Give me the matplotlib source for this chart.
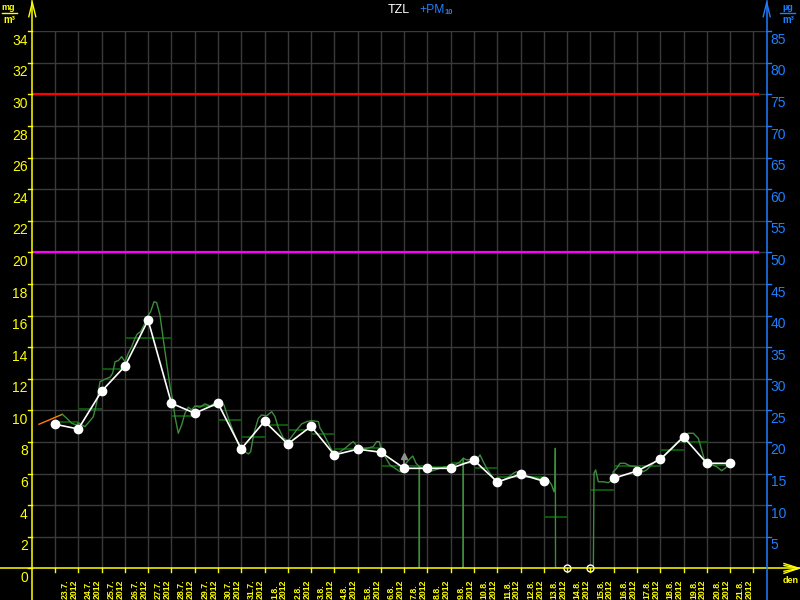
import matplotlib
matplotlib.use("Agg")
import matplotlib.pyplot as plt
from matplotlib.lines import Line2D
from matplotlib import transforms
import numpy as np

# ---------------- data ----------------
day_labels = ["23.7.", "24.7.", "25.7.", "26.7.", "27.7.", "28.7.", "29.7.", "30.7.", "31.7.",
              "1.8.", "2.8.", "3.8.", "4.8.", "5.8.", "6.8.", "7.8.", "8.8.", "9.8.", "10.8.",
              "11.8.", "12.8.", "13.8.", "14.8.", "15.8.", "16.8.", "17.8.", "18.8.", "19.8.",
              "20.8.", "21.8."]
year_label = "2012"

# white daily points (at day boundaries), mg/m3
daily_points = [9.12, 8.82, 11.21, 12.79, 15.71, 10.45, 9.82, 10.45, 7.56, 9.31,
                7.87, 8.99, 7.18, 7.54, 7.35, 6.33, 6.33, 6.33, 6.84, 5.47,
                5.95, 5.51, None, None, 5.70, 6.16, 6.90, 8.32, 6.65, 6.65]
hollow_idx = [22, 23]
hollow_vals = [0.0, 0.0]

# daily averages (dark green bars over each day)
daily_avg = [9.25, 10.07, 12.6, 14.57, 14.57, 9.63, 10.26, 9.37, 8.32, 9.06,
             8.74, 8.5, 7.54, 7.6, 6.5, 6.5, 6.4, 6.65, 6.33, 5.8,
             5.75, 3.27, 0.0, 4.96, 6.46, 6.46, 7.47, 8.0, 6.54]

# hourly series (hours from 23.7. 00:00), mg/m3
orange_hours = [-16.5, 7.6]
orange_vals = [9.12, 9.75]

hourly_hours = [7.6, 12.0, 17.2, 22.3, 24.1, 27.5, 30.9, 34.4, 39.5, 42.9, 46.4, 51.5, 56.7,
                59.4, 61.9, 65.3, 68.7, 72.2, 75.6, 79.0, 82.5, 84.9, 88.3, 91.8, 95.2, 98.6,
                102.1, 104.8, 108.2, 111.7, 115.1, 118.6, 121.3, 123.7, 127.1, 130.6, 134.0,
                137.4, 140.9, 144.3, 149.5, 154.6, 159.8, 164.9, 170.1, 174.2, 178.7, 183.8,
                189.0, 194.1, 199.3, 201.7, 205.1, 209.6, 213.1, 218.2, 223.4, 226.8, 230.2,
                235.4, 240.5, 244.0, 249.1, 254.3, 259.5, 264.6, 271.5, 273.2, 276.6, 280.1,
                281.8, 285.2, 288.7, 293.8, 299.0, 304.1, 307.5, 310.3, 314.4, 321.3, 328.1,
                331.6, 334.3, 336.8, 340.2, 345.3, 350.5, 355.7, 359.1, 361.8, 365.3, 368.8,
                372.2, 375.6, 375.6, 375.7, 381.4, 386.6, 391.7, 396.9, 402.0, 407.2, 412.4,
                417.5, 420.9, 420.9, 421.0, 424.4, 429.6, 434.7, 438.1, 441.5, 445.0, 448.4,
                452.6, 457.0, 462.2, 467.3, 472.5, 475.9, 481.1, 486.3, 489.7, 496.5, 504.5,
                508.5, 512.0, 514.4, 515.5, 515.8, 516.0, 555.0, 555.7, 557.4, 560.1, 565.3,
                570.4, 573.9, 575.6, 579.0, 582.5, 587.6, 592.8, 599.6, 606.5, 610.0, 615.1,
                620.3, 625.4, 630.6, 635.7, 640.9, 646.1, 649.5, 652.9, 658.0, 663.2, 666.7,
                670.1, 675.2, 682.2, 687.3, 690.7, 695.9]
hourly_vals = [9.75, 9.50, 9.18, 9.08, 9.22, 9.08, 8.97, 9.22, 9.60, 10.45, 11.82, 11.97, 12.10,
               12.35, 13.08, 13.15, 13.40, 13.08, 13.62, 14.03, 14.57, 14.84, 14.98, 15.41, 15.93,
               16.25, 16.88, 16.82, 16.04, 14.46, 12.98, 11.50, 10.66, 9.60, 8.55, 9.08, 9.82,
               10.20, 10.03, 10.28, 10.20, 10.41, 10.28, 10.45, 10.55, 10.34, 9.50, 8.65,
               7.87, 7.45, 7.24, 7.38, 8.55, 9.50, 9.71, 9.65, 9.92, 9.60, 8.90,
               8.25, 8.05, 8.34, 8.76, 9.14, 9.29, 9.35, 9.29, 8.87, 8.55, 8.13,
               7.92, 7.49, 7.28, 7.38, 7.60, 7.87, 8.02, 7.81, 7.54, 7.60, 7.70,
               8.02, 8.02, 7.38, 7.07, 6.54, 6.33, 6.12, 6.12, 6.65, 6.90, 7.11,
               6.65, 6.43, 0.0, 6.43, 6.23, 6.12, 6.23, 6.33, 6.43, 6.43, 6.54,
               6.75, 6.97, 0.0, 6.97, 6.86, 6.90, 6.86, 7.18, 6.75, 6.33, 6.02,
               5.64, 5.48, 5.59, 5.76, 6.02, 6.12, 5.91, 5.76, 5.80, 5.70, 5.59,
               5.59, 5.28, 4.85, 5.38, 7.60, 0.0, 0.0, 6.02, 6.23, 5.48, 5.48,
               5.42, 5.59, 6.12, 6.33, 6.65, 6.65, 6.48, 6.43, 6.12, 6.23, 6.54,
               6.86, 6.97, 7.28, 7.54, 7.92, 8.23, 8.44, 8.55, 8.55, 8.23, 7.49,
               6.75, 6.61, 6.43, 6.18, 6.33, 6.65]

limit_red = 30
limit_magenta = 20
left_ticks = list(range(0, 35, 2))
right_ticks = list(range(5, 90, 5))
right_factor = 2.5

# ---------------- style ----------------
YEL = "#ffff00"
BLUE = "#1e7fff"
GRID = "#3a3a3a"
GREEN = "#3c8c3c"
DKGREEN = "#0b5e0b"
FONT = "Liberation Sans"

W, H = 800, 600
fig = plt.figure(figsize=(8, 6), dpi=100, facecolor="black")
L, R, T, B = 32.3, 766.7, 31.3, 568.3
ax = fig.add_axes([L / W, 1 - B / H, (R - L) / W, (B - T) / H])
ax.set_facecolor("black")
ax.set_xlim(-0.975, 30.571)
ax.set_ylim(0, 34)
for s in ax.spines.values():
    s.set_visible(False)

ax.set_xticks(range(0, 31))
ax.set_yticks(range(2, 35, 2))
ax.tick_params(axis="both", labelbottom=False, labelleft=False, length=0)
ax.grid(True, color=GRID, lw=1.0, zorder=0)
ax.set_axisbelow(True)

# limits
xr_end = 30.24
ax.plot([-0.975, xr_end], [limit_red, limit_red], color="#ff0000", lw=1.6, zorder=2,
        solid_capstyle="butt")
ax.plot([-0.975, xr_end], [limit_magenta, limit_magenta], color="#ff00ff", lw=1.6, zorder=2,
        solid_capstyle="butt")

# daily averages
for d, v in enumerate(daily_avg):
    ax.plot([d, d + 1], [v, v], color=DKGREEN, lw=1.3, zorder=3, solid_capstyle="butt")

# hourly line
ax.plot(np.array(orange_hours) / 24.0, orange_vals, color="#ff8000", lw=1.0, zorder=4)
ax.plot(np.array(hourly_hours) / 24.0, hourly_vals, color=GREEN, lw=1.0, zorder=4)

# gray marker at 7.8.
ax.plot([15, 15], [6.4, 7.0], color="#909090", lw=1.2, zorder=5)
ax.plot([15], [7.1], marker="^", color="#909090", ms=4, zorder=5)

# white daily line
xs = np.arange(len(daily_points))
ys = np.array([np.nan if v is None else v for v in daily_points])
ax.plot(xs, ys, color="white", lw=1.2, marker="o", ms=6, mfc="white", mec="white", zorder=6)
ax.plot(hollow_idx, hollow_vals, ls="none", marker="o", ms=5, mfc="black", mec="white",
        mew=1.0, zorder=7, clip_on=False)

# ---------------- ticks & labels ----------------
def fig_line(xs_px, ys_px, color, lw=1.0):
    fig.add_artist(Line2D([x / W for x in xs_px], [1 - y / H for y in ys_px],
                          transform=fig.transFigure, color=color, lw=lw, zorder=10))

# axis lines
fig_line([L, L], [1, 600], YEL, 1.1)
fig_line([0, 800], [B, B], YEL, 1.1)
fig_line([R, R], [1, 600], BLUE, 1.1)
# arrows
fig_line([28.8, L, 35.8], [16.7, 2.5, 16.7], YEL, 1.0)
fig_line([763.2, R, 770.2], [16.7, 2.5, 16.7], BLUE, 1.0)
fig_line([784, 799, 784], [563.5, B, 573.3], YEL, 1.0)
fig_line([784, 799, 784], [565.5, B, 571.3], YEL, 1.0)

# tick marks
for k in range(0, 31):
    xp = 55 + 23.28 * k
    fig_line([xp, xp], [B, B + 4], YEL, 1.0)
for v in left_ticks:
    yp = B - v * (B - T) / 34.0
    fig_line([L - 4, L], [yp, yp], YEL, 1.0)
for v in right_ticks:
    yp = B - (v / right_factor) * (B - T) / 34.0
    fig_line([R, R + 4], [yp, yp], BLUE, 1.0)

# left tick labels
tl = transforms.offset_copy(transforms.blended_transform_factory(ax.transAxes, ax.transData),
                            fig=fig, x=-4.5, y=-2.5, units="dots")
for v in left_ticks:
    ax.text(0, v, str(v), transform=tl, color=YEL, fontsize=10, family=FONT,
            ha="right", va="top", clip_on=False)
# right tick labels
tr = transforms.offset_copy(transforms.blended_transform_factory(ax.transAxes, ax.transData),
                            fig=fig, x=4.0, y=-1.5, units="dots")
for v in right_ticks:
    ax.text(1, v / right_factor, str(v), transform=tr, color=BLUE, fontsize=10, family=FONT,
            ha="left", va="top", clip_on=False)

# x labels
tx = transforms.blended_transform_factory(ax.transData, fig.transFigure)
for d, lab in enumerate(day_labels):
    ax.text(d + 0.63, 1.0 / H, lab + "\n" + year_label, transform=tx, rotation=90,
            color=YEL, fontsize=6.3, family=FONT, weight="bold", ha="center", va="bottom",
            multialignment="left", linespacing=1.0, clip_on=False)

# title
fig.text(388 / W, 1 - 12.7 / H, "TZL", color="white", fontsize=9, family=FONT,
         ha="left", va="baseline")
fig.text(419 / W, 1 - 12.7 / H, "+PM", color=BLUE, fontsize=8.7, family=FONT,
         ha="left", va="baseline")
fig.text(444.5 / W, 1 - 14.5 / H, "10", color=BLUE, fontsize=5.5, family=FONT,
         weight="bold", ha="left", va="baseline")

# units
fig.text(8.5 / W, 1 - 10.5 / H, "mg", color=YEL, fontsize=6.5, family=FONT, weight="bold",
         ha="center", va="baseline")
fig_line([1.7, 16.7], [13.3, 13.3], YEL, 1.0)
fig.text(9.5 / W, 1 - 23 / H, "m³", color=YEL, fontsize=7, family=FONT, weight="bold",
         ha="center", va="baseline")
fig.text(788 / W, 1 - 10.5 / H, "µg", color=BLUE, fontsize=6.5, family=FONT, weight="bold",
         ha="center", va="baseline")
fig_line([780, 795], [13.3, 13.3], BLUE, 1.0)
fig.text(788.5 / W, 1 - 23 / H, "m³", color=BLUE, fontsize=7, family=FONT, weight="bold",
         ha="center", va="baseline")
fig.text(791 / W, 1 - 583 / H, "den", color=YEL, fontsize=6.5, family=FONT, weight="bold",
         ha="center", va="baseline")

fig.savefig("out.png", dpi=100, facecolor="black")
